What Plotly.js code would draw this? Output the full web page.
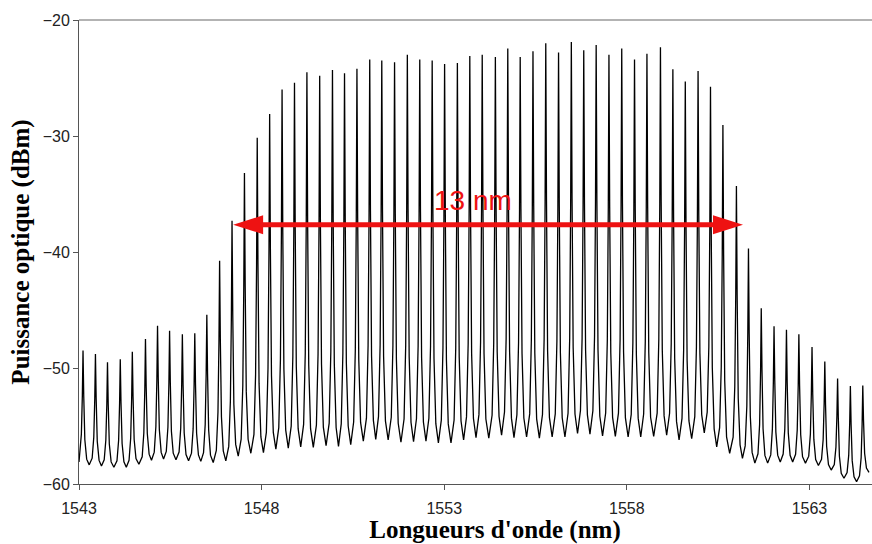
<!DOCTYPE html>
<html><head><meta charset="utf-8">
<script src="https://cdn.plot.ly/plotly-3.0.1.min.js"></script>
<style>
html,body{margin:0;padding:0;background:#fff;overflow:hidden}
#wrap{width:872px;height:544px;overflow:hidden;position:relative}
#chart{width:911px;height:544px}
</style></head>
<body><div id="wrap"><div id="chart"></div></div>
<script>
// Comb line wavelengths (nm)
const peakWavelengths = [1543.11,1543.45,1543.78,1544.13,1544.46,1544.82,1545.15,1545.48,1545.83,1546.17,
 1546.50,1546.85,1547.19,1547.53,1547.88,1548.22,1548.56,1548.90,1549.24,1549.59,
 1549.94,1550.27,1550.61,1550.96,1551.29,1551.64,1551.99,1552.33,1552.67,1553.01,
 1553.36,1553.70,1554.04,1554.40,1554.74,1555.08,1555.43,1555.78,1556.13,1556.48,
 1556.82,1557.16,1557.51,1557.86,1558.21,1558.55,1558.92,1559.26,1559.60,1559.95,
 1560.29,1560.63,1561.00,1561.33,1561.68,1562.03,1562.37,1562.71,1563.07,1563.42,
 1563.77,1564.12,1564.46];
// Peak optical power (dBm)
const peakPowers = [-48.5,-48.8,-49.5,-49.25,-48.6,-47.5,-46.35,-46.8,-47.1,-47.0,
 -45.4,-40.75,-37.3,-33.2,-30.15,-28.1,-26.0,-25.4,-24.5,-24.8,
 -24.3,-24.6,-24.2,-23.4,-23.5,-23.65,-23.0,-23.4,-23.5,-23.8,
 -23.7,-23.1,-23.0,-23.2,-22.45,-23.2,-22.7,-22.0,-22.8,-21.9,
 -22.6,-22.15,-23.0,-22.45,-23.4,-22.9,-22.35,-24.25,-25.3,-24.4,
 -25.75,-29.05,-34.3,-39.7,-44.85,-46.4,-46.7,-47.1,-48.2,-49.45,
 -50.9,-51.55,-51.5];
// Floor level (dBm) in the gap after each line
const floorPowers = [-58.35,-58.45,-58.55,-58.55,-58.3,-57.95,-57.85,-57.9,-58.0,-58.05,
 -58.15,-58.0,-57.6,-57.35,-57.3,-57.0,-56.9,-56.8,-56.85,-56.7,
 -56.75,-56.6,-56.3,-56.15,-56.2,-56.4,-56.35,-56.3,-56.45,-56.45,
 -56.2,-56.0,-56.05,-55.8,-56.0,-55.95,-56.05,-55.95,-55.95,-55.65,
 -55.7,-55.85,-55.9,-55.95,-55.95,-55.9,-55.8,-56.2,-56.1,-55.6,
 -56.8,-57.35,-57.8,-58.2,-58.2,-58.1,-58.1,-58.2,-58.4,-58.8,
 -59.5,-59.8,-59.0];
const startWavelength = 1543.0;
const startPower = -58.1;
const xTicks = [1543,1548,1553,1558,1563];
const yTicks = [-60,-50,-40,-30,-20];
const yTickText = ['\u221260','\u221250','\u221240','\u221230','\u221220'];
const arrowLeft = 1547.22, arrowRight = 1561.18, arrowLevel = -37.65;
const arrowLabel = '13 nm';
const labelX = 1553.80, labelY = -35.6;

// line shape of one comb line: [offset nm, fraction of height above floor]
const riseShape = [[-0.09,0.06],[-0.045,0.25],[-0.018,0.6]];
const fallShape = [[0.02,0.6],[0.05,0.22],[0.10,0.05]];

const xs = [startWavelength], ys = [startPower];
for (let i = 0; i < peakWavelengths.length; i++) {
  const p = peakWavelengths[i], P = peakPowers[i];
  const fl = i === 0 ? startPower : floorPowers[i-1];
  const fr = floorPowers[i];
  riseShape.forEach(([o,f]) => { xs.push(p+o); ys.push(fl + f*(P-fl)); });
  xs.push(p); ys.push(P);
  fallShape.forEach(([o,f]) => { xs.push(p+o); ys.push(fr + f*(P-fr)); });
  const nxt = i < peakWavelengths.length-1 ? peakWavelengths[i+1] : p + (p - peakWavelengths[i-1]);
  xs.push((p+nxt)/2); ys.push(fr);
}

const red = 'rgb(238,18,18)';
const tickFont = {family:'Liberation Sans, Arial, sans-serif', size:16, color:'#222'};
const titleFont = {family:'Liberation Serif, Times New Roman, serif', size:25, color:'#000', weight:'bold'};

const data = [{type:'scatter', mode:'lines', x:xs, y:ys, line:{color:'#000', width:1.3}, hoverinfo:'skip'}];
const layout = {
  width:911, height:544,
  margin:{l:79, r:0, t:20, b:60},
  paper_bgcolor:'#fff', plot_bgcolor:'#fff', showlegend:false,
  xaxis:{range:[1543,1565.78], tickvals:xTicks, ticktext:xTicks.map(String), ticks:'outside', ticklen:5,
    ticklabelstandoff:5,
    tickcolor:'#555', showline:true, linecolor:'#555', linewidth:1, showgrid:false, zeroline:false,
    tickfont:tickFont, title:{text:"Longueurs d'onde (nm)", font:titleFont, standoff:0}},
  yaxis:{range:[-60,-20], tickvals:yTicks, ticktext:yTickText, ticks:'outside', ticklen:5,
    tickcolor:'#555', showline:true, linecolor:'#555', linewidth:1, showgrid:false, zeroline:false,
    tickfont:tickFont, title:{text:'Puissance optique (dBm)', font:titleFont, standoff:5}},
  shapes:[
    {type:'line', xref:'paper', yref:'paper', x0:0, x1:1, y0:1, y1:1, line:{color:'#9a9a9a', width:1.5}},
    {type:'line', xref:'x', yref:'y', x0:arrowLeft+0.3, x1:arrowRight-0.3, y0:arrowLevel, y1:arrowLevel, line:{color:red, width:5}},
    {type:'path', xref:'x', yref:'y', xsizemode:'pixel', ysizemode:'pixel', xanchor:arrowLeft, yanchor:arrowLevel,
      path:'M0,0 L30,9.5 L30,-9.5 Z', fillcolor:red, line:{width:0}},
    {type:'path', xref:'x', yref:'y', xsizemode:'pixel', ysizemode:'pixel', xanchor:arrowRight, yanchor:arrowLevel,
      path:'M0,0 L-30,9.5 L-30,-9.5 Z', fillcolor:red, line:{width:0}}
  ],
  annotations:[{x:labelX, y:labelY, xref:'x', yref:'y', text:arrowLabel, showarrow:false,
    font:{family:'Liberation Sans, Arial, sans-serif', size:28, color:red}, xanchor:'center', yanchor:'middle'}]
};
Plotly.newPlot('chart', data, layout, {staticPlot:true, displayModeBar:false});
</script>
</body></html>
